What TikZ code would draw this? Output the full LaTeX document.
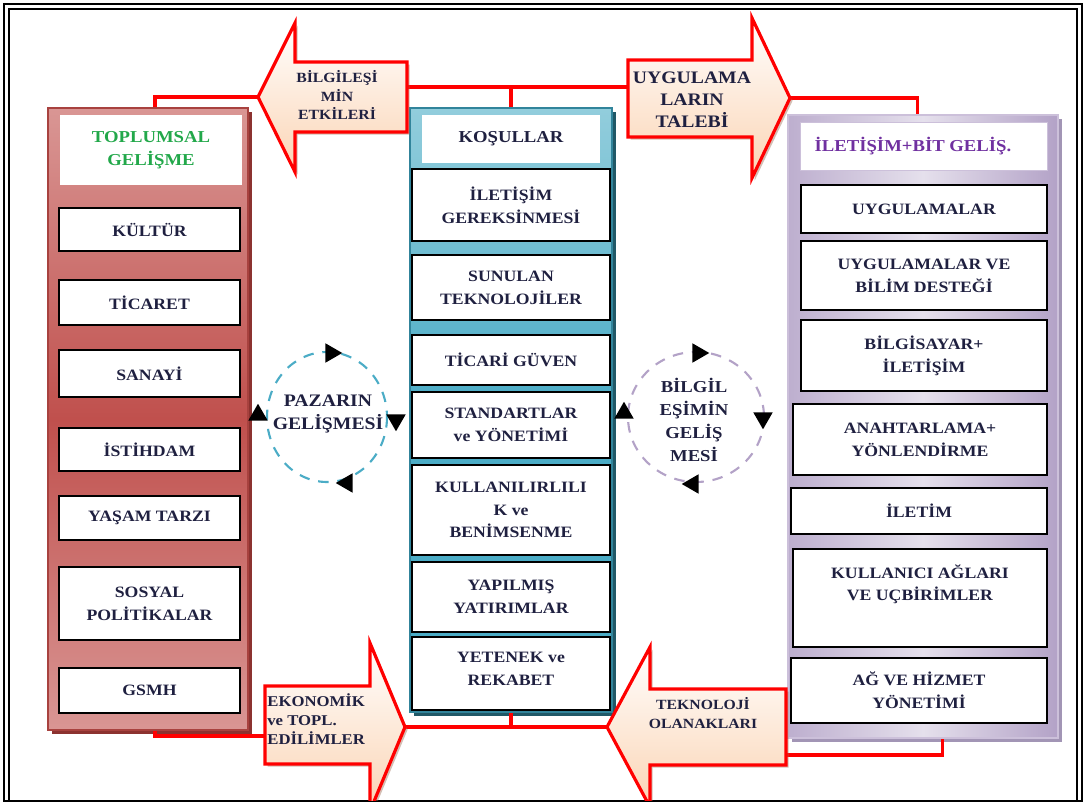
\documentclass[tikz,border=0pt]{standalone}
\usepackage{fontspec}
\setmainfont{Liberation Serif}[FakeStretch=1.12]
\usetikzlibrary{fit,shapes.geometric,shadows}
% Colors
\definecolor{ink}{HTML}{1F2040}
\definecolor{redlight}{HTML}{D99694}
\definecolor{reddark}{HTML}{C0504D}
\definecolor{rededge}{HTML}{A8423F}
\definecolor{redshadow}{HTML}{8C3230}
\definecolor{bluelight}{HTML}{92CDDC}
\definecolor{bluemain}{HTML}{4BACC6}
\definecolor{blueedge}{HTML}{31849B}
\definecolor{blueshadow}{HTML}{205867}
\definecolor{purplelight}{HTML}{E5E0EC}
\definecolor{purplemain}{HTML}{B3A2C7}
\definecolor{purpleedge}{HTML}{CCC0DA}
\definecolor{purpleshadow}{HTML}{A295B5}
\definecolor{linkred}{HTML}{FF0000}
\definecolor{peach}{HTML}{FBD4B4}
\definecolor{arrowshadow}{HTML}{A0705A}
\definecolor{socgreen}{HTML}{22A84A}
\definecolor{ictpurple}{HTML}{7030A0}
\begin{document}
\begin{tikzpicture}
    [x=0.02cm,y=-0.02cm,line join=miter,
    % Styles
    txt/.style={font=\bfseries\fontsize{9}{13}\selectfont,align=center,text=ink,inner sep=0pt},
    titletxt/.style={txt,font=\bfseries\fontsize{9.5}{13}\selectfont},
    box/.style={draw=black,line width=0.9pt,fill=white,inner sep=0pt},
    title/.style={fill=white,inner sep=0pt},
    column/.style={inner sep=0pt,line width=1pt},
    link/.style={draw=linkred,line width=1.8pt},
    blockarrow/.style={draw=linkred,line width=1.8pt,top color=white,bottom color=peach,
      drop shadow={shadow xshift=1.5pt,shadow yshift=-1.5pt,fill=arrowshadow,opacity=0.45}},
    ring/.style={line width=1.2pt,dash pattern=on 6pt off 5pt},
    arrowtri/.style={regular polygon,regular polygon sides=3,fill=black,inner sep=0pt,minimum size=0.45cm}]
  \useasboundingbox (0,0) rectangle (1086,804);
  % Frame
  \draw[line width=1.2pt] (4,4) rectangle (1082,801);
  \draw[line width=0.9pt] (9,801) -- (9,9) -- (1077,9) -- (1077,801);
  % Ports of the block arrows
  \coordinate (etkiuc) at (258,97);
  \coordinate (etkiport) at (407,87);
  \coordinate (talepport) at (628,87);
  \coordinate (talepuc) at (790,98);
  \coordinate (ekoport) at (265,736);
  \coordinate (ekouc) at (405,727);
  \coordinate (teknouc) at (607,727);
  \coordinate (teknoport) at (786,755);
  % The columns
  \node[column,draw=rededge,top color=redlight,bottom color=redlight,middle color=reddark,
    drop shadow={shadow xshift=2.5pt,shadow yshift=-2.5pt,fill=redshadow,opacity=1},
    fit={(48,108) (248,730)}] (soc) {};
  \node[column,draw=blueedge,top color=bluelight,bottom color=bluemain,middle color=bluemain,
    drop shadow={shadow xshift=2.5pt,shadow yshift=-2.5pt,fill=blueshadow,opacity=1},
    fit={(410,108) (612,712)}] (cond) {};
  \node[column,draw=purpleedge,left color=purplemain!80!purplelight,right color=purplemain,middle color=purplelight,
    drop shadow={shadow xshift=2.5pt,shadow yshift=-2.5pt,fill=purpleshadow,opacity=1},
    fit={(788,115) (1058,738)}] (ict) {};
  % Connectors
  \draw[link] ([xshift=4pt]soc.north) |- (etkiuc);
  \draw[link] (etkiport) -- (talepport);
  \draw[link] (cond.north) -- (cond.north |- etkiport);
  \draw[link] (talepuc) -| ([xshift=-3pt]ict.north);
  \draw[link] ([xshift=4pt]soc.south) |- (ekoport);
  \draw[link] (ekouc) -- (teknouc);
  \draw[link] (cond.south) -- (cond.south |- ekouc);
  \draw[link] (teknoport) -| ([xshift=11pt]ict.south);
  % Titles
  \node[title,fit={(60,115) (242,185)},
    label={[titletxt,text=socgreen]center:{TOPLUMSAL\\GELİŞME}}] (soctitle) {};
  \node[title,fit={(422,115) (600,163)},
    label={[titletxt]center:KOŞULLAR}] (condtitle) {};
  \node[title,draw=purpleedge,fit={(800,122) (1047,170)},
    label={[titletxt,text=ictpurple,xshift=-6pt]center:{İLETİŞİM+BİT GELİŞ.}}] (icttitle) {};
  % Left column
  \foreach \name/\ya/\yb/\label in {kultur/208/251/KÜLTÜR, ticaret/280/325/TİCARET,
      sanayi/350/397/SANAYİ, istihdam/428/471/İSTİHDAM, yasam/496/540/YAŞAM TARZI,
      sosyal/567/640/{SOSYAL\\POLİTİKALAR}, gsmh/668/713/GSMH}
    \node[box,fit={(59,\ya) (240,\yb)},label={[txt]center:{\label}}] (\name) {};
  % Middle column
  \foreach \name/\ya/\yb/\label in {gereksinme/169/241/{İLETİŞİM\\GEREKSİNMESİ},
      sunulan/255/320/{SUNULAN\\TEKNOLOJİLER}, guven/335/385/TİCARİ GÜVEN,
      standart/392/458/{STANDARTLAR\\ve YÖNETİMİ},
      benimseme/465/555/{KULLANILIRLILI\\K ve\\BENİMSENME},
      yatirim/562/632/{YAPILMIŞ\\YATIRIMLAR}}
    \node[box,fit={(412,\ya) (610,\yb)},label={[txt]center:{\label}}] (\name) {};
  \node[box,fit={(412,637) (610,710)},
    label={[txt,anchor=north,yshift=-9pt]north:{YETENEK ve\\REKABET}}] (rekabet) {};
  % Right column
  \foreach \name/\xa/\ya/\yb/\label in {uygulama/801/185/233/UYGULAMALAR,
      bilim/801/241/310/{UYGULAMALAR VE\\BİLİM DESTEĞİ},
      bilgisayar/801/320/391/{BİLGİSAYAR+\\İLETİŞİM},
      anahtar/793/404/475/{ANAHTARLAMA+\\YÖNLENDİRME}, iletim/791/488/534/İLETİM,
      hizmet/791/658/723/{AĞ VE HİZMET\\YÖNETİMİ}}
    \node[box,fit={(\xa,\ya) (1047,\yb)},label={[txt]center:{\label}}] (\name) {};
  \node[box,fit={(793,549) (1047,647)},
    label={[txt,anchor=north,yshift=-9pt]north:{KULLANICI AĞLARI\\VE UÇBİRİMLER}}] (uc) {};
  % Block arrows
  \begin{scope}
    \clip (9,9) rectangle (1077,800);
    \draw[blockarrow] (407,62) -- (295,62) -- (295,23) -- (etkiuc) -- (295,172) -- (295,132) -- (407,132) -- cycle;
    \draw[blockarrow] (628,60) -- (752,60) -- (752,18) -- (talepuc) -- (752,178) -- (752,137) -- (628,137) -- cycle;
    \draw[blockarrow] (265,686) -- (370,686) -- (370,643) -- (ekouc) -- (370,811) -- (370,764) -- (265,764) -- cycle;
    \draw[blockarrow] (786,689) -- (650,689) -- (650,647) -- (teknouc) -- (650,807) -- (650,765) -- (786,765) -- cycle;
  \end{scope}
  \node[txt,font=\bfseries\fontsize{8}{10.5}\selectfont] (etki) at (337,95) {BİLGİLEŞİ\\MİN\\ETKİLERİ};
  \node[txt,font=\bfseries\fontsize{10}{12.5}\selectfont] (talep) at (692,100) {UYGULAMA\\LARIN\\TALEBİ};
  \node[txt,align=left,anchor=west,font=\bfseries\fontsize{8.5}{11}\selectfont] (eko) at (267,719) {EKONOMİK\\ve TOPL.\\EDİLİMLER};
  \node[txt,font=\bfseries\fontsize{8}{10.5}\selectfont] (tekno) at (703,713) {TEKNOLOJİ\\OLANAKLARI};
  % Development cycles
  \draw[ring,draw=bluemain] (327,417) ellipse [x radius=60,y radius=65];
  \draw[ring,draw=purplemain] (696,417) ellipse [x radius=68,y radius=65];
  \node[txt,font=\bfseries\fontsize{10}{13}\selectfont] (pazar) at (328,414) {PAZARIN\\GELİŞMESİ};
  \node[txt,font=\bfseries\fontsize{9.5}{13}\selectfont] (gelisme) at (694,420) {BİLGİL\\EŞİMİN\\GELİŞ\\MESİ};
  \foreach \name/\p/\r in {pa/{331,353}/-90, pb/{396,420}/180, pc/{347,483}/90, pd/{258,415}/0,
      ba/{698,353}/-90, bb/{763,418}/180, bc/{693,484}/90, bd/{624,413}/0}
    \node[arrowtri,rotate=\r] (\name) at (\p) {};
\end{tikzpicture}
\end{document}
